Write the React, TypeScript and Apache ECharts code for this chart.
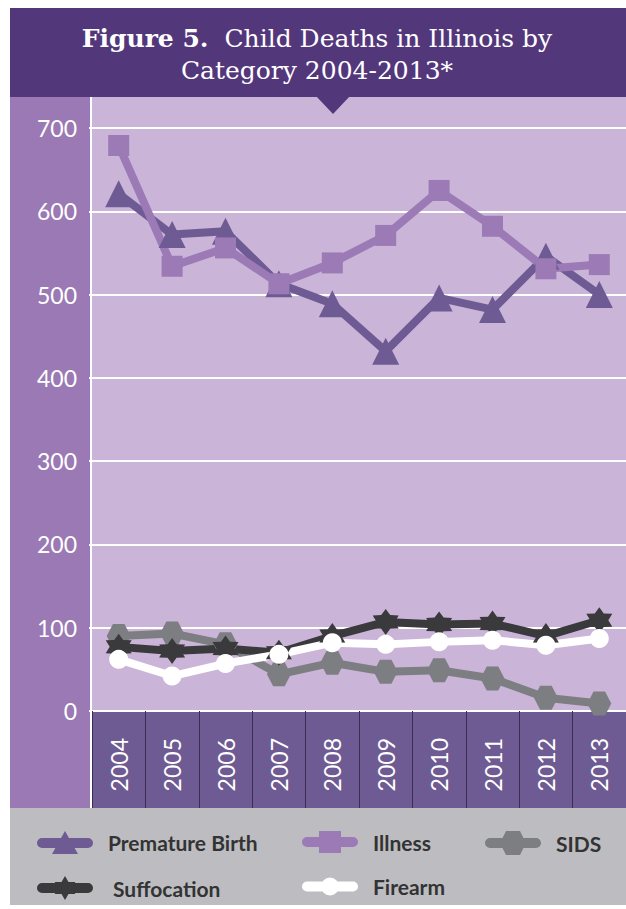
import React, { useEffect, useRef } from "react";
import * as echarts from "echarts";

const years = ["2004", "2005", "2006", "2007", "2008", "2009", "2010", "2011", "2012", "2013"];
const prematureBirth = [621, 572, 576, 513, 489, 432, 496, 482, 546, 500];
const illness = [679, 534, 556, 513, 538, 571, 625, 582, 531, 536];
const sids = [90, 93, 80, 44, 58, 47, 49, 39, 16, 9];
const suffocation = [77, 72, 75, 70, 90, 107, 104, 105, 90, 109];
const firearm = [62, 42, 57, 68, 82, 80, 83, 85, 79, 87];
const yMin = 0;
const yMax = 700;
const yStep = 100;

const HEX = "path://M2.6,0 L7.4,0 L10,5 L7.4,10 L2.6,10 L0,5 Z";
const STAR =
  "path://M10,0 L13,4.8 L18.66,5 L16,10 L18.66,15 L13,15.2 L10,20 L7,15.2 L1.34,15 L4,10 L1.34,5 L7,4.8 Z";

// legend icons: a rounded bar with the marker in its middle (56 x 24 box)
const BAR = "M5,7 L51,7 A5,5 0 0 1 51,17 L5,17 A5,5 0 0 1 5,7 Z ";
const ICON_PREM = "path://" + BAR + "M28,0 L41,23 L15,23 Z";
const ICON_ILL = "path://" + BAR + "M17,1 L39,1 L39,23 L17,23 Z";
const ICON_SIDS = "path://" + BAR + "M21,0 L35,0 L41,12 L35,24 L21,24 L15,12 Z";
const ICON_SUFF =
  "path://" +
  BAR +
  "M28,0 L31.5,5.94 L38.39,6 L35,12 L38.39,18 L31.5,18.06 L28,24 L24.5,18.06 L17.61,18 L21,12 L17.61,6 L24.5,5.94 Z";
const ICON_FIRE = "path://" + BAR + "M28,3 A9,9 0 1 1 28,21 A9,9 0 1 1 28,3 Z";

const C_TITLE = "#53377b";
const C_COL = "#9a79b4";
const C_PLOT = "#cab4d8";
const C_BAND = "#6f5b93";
const C_LEG = "#bdbdc1";
const C_PREM = "#6f5b93";
const C_ILL = "#9b7ab6";
const C_SIDS = "#7d7e82";
const C_SUFF = "#3a3a3c";
const C_FIRE = "#ffffff";

export default function App() {
  const ref = useRef<HTMLDivElement>(null);
  useEffect(() => {
    if (!ref.current) return;
    const chart = echarts.init(ref.current, null, { renderer: "svg" });
    const mk = (name: string, data: number[], color: string, symbol: string, size: number) => ({
      name,
      type: "line",
      data,
      symbol,
      symbolSize: size,
      showSymbol: true,
      lineStyle: { color, width: 8, cap: "round", join: "round" },
      itemStyle: { color, borderWidth: 0 },
      emphasis: { disabled: true },
      z: 3,
    });
    const leg = (name: string, icon: string, left: number, top: number, gap: number) => ({
      data: [{ name, icon }],
      left,
      top,
      padding: 0,
      itemWidth: 56,
      itemHeight: 24,
      textStyle: {
        color: "#333333",
        fontSize: 21,
        fontWeight: "bold",
        fontFamily: "Lato",
        padding: [0, 0, 0, gap],
      },
      selectedMode: false,
    });
    chart.setOption({
      animation: false,
      grid: { left: 92, top: 128, width: 536, height: 583 },
      xAxis: {
        type: "category",
        data: years,
        boundaryGap: true,
        axisLine: { show: true, lineStyle: { color: "#ffffff", width: 2 } },
        axisTick: { show: true, length: 97, lineStyle: { color: "#3b2c52", width: 1 } },
        axisLabel: {
          rotate: 90,
          margin: 27,
          color: "#ffffff",
          fontSize: 23,
          fontFamily: "Lato",
        },
        splitLine: { show: false },
      },
      yAxis: {
        type: "value",
        min: yMin,
        max: yMax,
        interval: yStep,
        axisLine: { show: false },
        axisTick: { show: true, length: 3, lineStyle: { color: "#ffffff", width: 2 } },
        axisLabel: { color: "#ffffff", fontSize: 23, fontFamily: "Lato", margin: 15 },
        splitLine: { show: true, lineStyle: { color: "#ffffff", width: 2 } },
      },
      legend: [
        leg("Premature Birth", ICON_PREM, 37, 831, 10),
        leg("Illness", ICON_ILL, 302, 831, 10),
        leg("SIDS", ICON_SIDS, 485, 831, 10),
        leg("Suffocation", ICON_SUFF, 37, 876, 15),
        leg("Firearm", ICON_FIRE, 302, 876, 10),
      ],
      graphic: [
        { type: "rect", z: -10, shape: { x: 10, y: 8, width: 616, height: 89 }, style: { fill: C_TITLE } },
        { type: "rect", z: -10, shape: { x: 10, y: 97, width: 82, height: 711 }, style: { fill: C_COL } },
        { type: "rect", z: -10, shape: { x: 92, y: 97, width: 534, height: 614 }, style: { fill: C_PLOT } },
        { type: "rect", z: -10, shape: { x: 92, y: 711, width: 534, height: 97 }, style: { fill: C_BAND } },
        { type: "rect", z: -10, shape: { x: 10, y: 808, width: 616, height: 97 }, style: { fill: C_LEG } },
        { type: "polygon", z: 5, shape: { points: [[316, 96], [350, 96], [333, 114]] }, style: { fill: C_TITLE } },
        { type: "line", z: 5, shape: { x1: 91, y1: 97, x2: 91, y2: 808 }, style: { stroke: "#ffffff", lineWidth: 2 } },
        {
          type: "text",
          z: 10,
          x: 317,
          y: 38,
          style: {
            text: "{b|Figure 5.}  Child Deaths in Illinois by",
            fill: "#ffffff",
            fontFamily: "DejaVu Serif",
            fontSize: 25,
            align: "center",
            verticalAlign: "middle",
            rich: { b: { fontWeight: "bold", fontFamily: "DejaVu Serif", fontSize: 25, fill: "#ffffff" } },
          },
        },
        {
          type: "text",
          z: 10,
          x: 317,
          y: 70,
          style: {
            text: "Category 2004-2013*",
            fill: "#ffffff",
            fontFamily: "DejaVu Serif",
            fontSize: 25,
            align: "center",
            verticalAlign: "middle",
          },
        },
      ],
      series: [
        mk("Premature Birth", prematureBirth, C_PREM, "triangle", 27),
        mk("Illness", illness, C_ILL, "rect", 21),
        mk("SIDS", sids, C_SIDS, HEX, 24),
        mk("Suffocation", suffocation, C_SUFF, STAR, 26),
        mk("Firearm", firearm, C_FIRE, "circle", 19),
      ],
    });
    return () => chart.dispose();
  }, []);
  return (
    <div
      ref={ref}
      style={{ position: "absolute", left: 0, top: 0, width: 626, height: 909, background: "#ffffff" }}
    />
  );
}
